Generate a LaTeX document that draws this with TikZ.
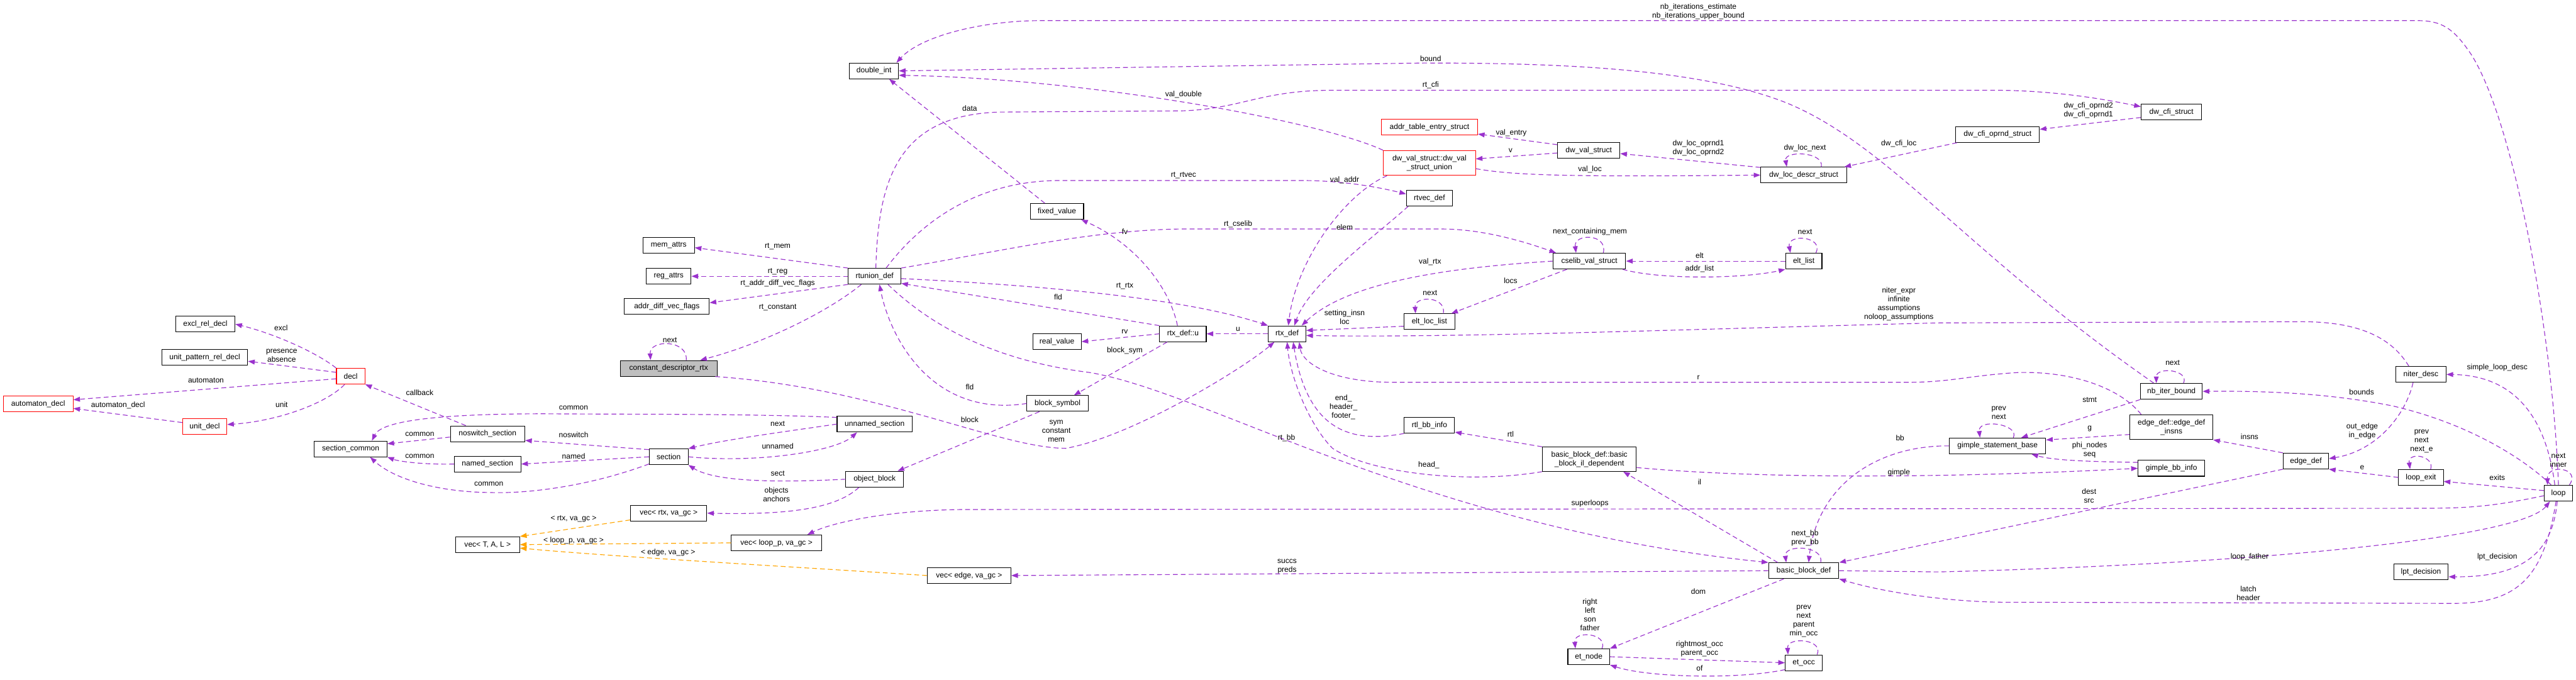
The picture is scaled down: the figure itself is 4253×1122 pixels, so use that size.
\documentclass[tikz,border=0pt]{standalone}
\usepackage{fontspec}
\setmainfont{Liberation Sans}
\usepackage{tikz}
\usetikzlibrary{arrows.meta}
\definecolor{Euse}{RGB}{154, 50, 205}
\definecolor{Etpl}{RGB}{255, 165, 0}
\definecolor{Bred}{RGB}{255, 0, 0}
\definecolor{Bgray}{RGB}{191, 191, 191}
\newcommand{\dxfont}{\fontsize{12.5}{14.5}\selectfont}
\tikzset{
    cls/.style={
        rectangle, draw=black, line width=1.1pt, fill=white, text=black,
        minimum height=26pt, inner sep=2pt, align=center, font=\dxfont
    },
    clsred/.style={cls, draw=Bred},
    clsgray/.style={cls, fill=Bgray},
    uarr/.style={-{Triangle[length=11pt, width=8pt]}, line width=1.2pt, Euse,
        dash pattern=on 8pt off 5pt},
    tarr/.style={uarr, Etpl},
    lbl/.style={font=\dxfont, align=center, inner sep=0pt, text=black},
}

\begin{document}
\begin{tikzpicture}[x=1pt, y=-1pt]

    \useasboundingbox (0,0) rectangle (4253,1122);

    % ── classes ─────────────────────────────────────────
    \node [cls, minimum width=81] (dint) at (1443,117) {double\_int};
    \node [cls, minimum width=88] (fixval) at (1745,349) {fixed\_value};
    \node [clsred, minimum width=159] (addrtab) at (2360,210) {addr\_table\_entry\_struct};
    \node [cls, minimum width=103] (dwval) at (2623,248) {dw\_val\_struct};
    \node [clsred, minimum width=152, minimum height=41]
        (dwunion) at (2360,269) {dw\_val\_struct::dw\_val\\\_struct\_union};
    \node [cls, minimum width=142] (dwloc) at (2978,289) {dw\_loc\_descr\_struct};
    \node [cls, minimum width=76] (rtvec) at (2360,327) {rtvec\_def};
    \node [cls, minimum width=100] (dwcfi) at (3585,185) {dw\_cfi\_struct};
    \node [cls, minimum width=138] (dwcfiop) at (3298,222) {dw\_cfi\_oprnd\_struct};

    \node [cls, minimum width=98] (excl) at (339,535) {excl\_rel\_decl};
    \node [cls, minimum width=142] (upat) at (338,590) {unit\_pattern\_rel\_decl};
    \node [clsred, minimum width=47] (decl) at (579,621) {decl};
    \node [clsred, minimum width=115] (autom) at (63,667) {automaton\_decl};
    \node [clsred, minimum width=73] (unitd) at (338,704) {unit\_decl};
    \node [cls, minimum width=123] (nosw) at (805,716) {noswitch\_section};
    \node [cls, minimum width=120] (seccom) at (579,741) {section\_common};
    \node [cls, minimum width=110] (namsec) at (805,766) {named\_section};
    \node [cls, minimum width=106] (vecT) at (805,899) {vec< T, A, L >};

    \node [cls, minimum width=85] (memat) at (1104,405) {mem\_attrs};
    \node [cls, minimum width=74] (regat) at (1104,456) {reg\_attrs};
    \node [cls, minimum width=140] (adfl) at (1101,506) {addr\_diff\_vec\_flags};
    \node [clsgray, minimum width=160] (cdr) at (1104,608) {constant\_descriptor\_rtx};
    \node [cls, minimum width=64] (sect) at (1104,754) {section};
    \node [cls, minimum width=126] (vrtx) at (1104,847) {vec< rtx, va\_gc >};
    \node [cls, minimum width=87] (rtun) at (1444,456) {rtunion\_def};
    \node [cls, minimum width=124] (unnsec) at (1444,700) {unnamed\_section};
    \node [cls, minimum width=95] (objb) at (1444,791) {object\_block};
    \node [cls, minimum width=149] (vloop) at (1282,896) {vec< loop\_p, va\_gc >};
    \node [cls, minimum width=138] (vedge) at (1600,950) {vec< edge, va\_gc >};
    \node [cls, minimum width=80] (realv) at (1745,564) {real\_value};
    \node [cls, minimum width=101] (bsym) at (1746,666) {block\_symbol};
    \node [cls, minimum width=77] (rtxu) at (1953,551) {rtx\_def::u};
    \node [cls, minimum width=62] (rtx) at (2125,551) {rtx\_def};

    \node [cls, minimum width=120] (cselib) at (2624,431) {cselib\_val\_struct};
    \node [cls, minimum width=60] (eltl) at (2978,431) {elt\_list};
    \node [cls, minimum width=84] (eltloc) at (2360,531) {elt\_loc\_list};
    \node [cls, minimum width=83] (rtlbb) at (2360,702) {rtl\_bb\_info};
    \node [cls, minimum width=155, minimum height=40]
        (bbil) at (2624,758) {basic\_block\_def::basic\\\_block\_il\_dependent};
    \node [cls, minimum width=116] (bbd) at (2978,942) {basic\_block\_def};
    \node [cls, minimum width=69] (etn) at (2623,1084) {et\_node};
    \node [cls, minimum width=61] (eto) at (2978,1094) {et\_occ};

    \node [cls, minimum width=102] (nbit) at (3585,646) {nb\_iter\_bound};
    \node [cls, minimum width=137, minimum height=41]
        (edins) at (3585,705) {edge\_def::edge\_def\\\_insns};
    \node [cls, minimum width=159] (gsb) at (3298,736) {gimple\_statement\_base};
    \node [cls, minimum width=110] (gbb) at (3585,773) {gimple\_bb\_info};
    \node [cls, minimum width=75] (edge) at (3807,761) {edge\_def};
    \node [cls, minimum width=83] (niter) at (3997,618) {niter\_desc};
    \node [cls, minimum width=74] (lexit) at (3997,788) {loop\_exit};
    \node [cls, minimum width=90] (lpt) at (3997,944) {lpt\_decision};
    \node [cls, minimum width=47] (loop) at (4224,814) {loop};

    % ── decl / section group ────────────────────────────
    \draw [uarr] (decl.north west) .. controls (520,580) and (450,550) .. (excl.east);
    \draw [uarr] (decl.165) -- (upat.-5);
    \draw [uarr] (decl.190) -- (autom.7);
    \draw [uarr] (unitd.170) -- (autom.-7);
    \draw [uarr] ([xshift=-10pt]decl.south) .. controls (540,665) and (460,695) .. (unitd.5);
    \draw [uarr] ([xshift=-36pt]nosw.north) -- (decl.south east);
    \draw [uarr] (nosw.185) -- (seccom.8);
    \draw [uarr] (unnsec.170) .. controls (1250,683) and (1050,684) .. (900,683)
        .. controls (720,683) and (630,695) .. ([xshift=35pt]seccom.north);
    \draw [uarr] (sect.160) -- (nosw.-10);
    \draw [uarr] (sect.west) -- (namsec.east);
    \draw [uarr] (namsec.west) .. controls (700,767) and (660,762) .. (seccom.south east);
    \draw [uarr] (sect.200) .. controls (980,800) and (880,815) .. (810,813)
        .. controls (720,812) and (650,790) .. ([xshift=32pt]seccom.south);
    \draw [uarr] (sect.east) .. controls (1250,765) and (1380,745) .. ([xshift=-29pt]unnsec.south);
    \draw [uarr] (unnsec.west) .. controls (1300,712) and (1200,725) .. (sect.north east);
    \draw [uarr] (objb.west) .. controls (1280,797) and (1180,795) .. (sect.south east);
    \draw [uarr] ([xshift=-26pt]objb.south) .. controls (1380,840) and (1300,850) .. (vrtx.east);
    \draw [uarr] ([xshift=-30pt]bsym.south) -- ([xshift=38pt]objb.north);

    % ── templates ───────────────────────────────────────
    \draw [tarr] (vrtx.190) -- (vecT.north east);
    \draw [tarr] (vloop.west) -- (vecT.east);
    \draw [tarr] (vedge.west) .. controls (1300,935) and (1000,918) .. (vecT.-6);

    % ── rtunion_def / rtx_def ───────────────────────────
    \draw [uarr] (rtun.north west) -- (memat.-5);
    \draw [uarr] (rtun.west) -- (regat.east);
    \draw [uarr] (rtun.south west) -- (adfl.5);
    \draw [uarr] ([xshift=-22pt]rtun.south) .. controls (1360,520) and (1250,570) .. ([xshift=52pt]cdr.north);
    \draw [uarr] ([xshift=29pt]cdr.north) .. controls (1136,560) and (1072,560) .. ([xshift=-30pt]cdr.north);
    \draw [uarr] (cdr.-10) .. controls (1450,640) and (1650,740) .. (1760,740)
        .. controls (1870,720) and (2050,610) .. ([xshift=-21pt]rtx.south);
    \draw [uarr] (bsym.west) .. controls (1540,690) and (1470,560) .. ([xshift=8pt]rtun.south);
    \draw [uarr] ([xshift=-26pt]rtxu.south) -- ([xshift=27pt]bsym.north);
    \draw [uarr] (rtxu.west) -- (realv.east);
    \draw [uarr] (rtx.west) -- (rtxu.east);
    \draw [uarr] (rtxu.north west) -- (rtun.-15);
    \draw [uarr] (rtun.-5) .. controls (1700,470) and (1950,490) .. (rtx.north west);
    \draw [uarr] ([xshift=-20pt]fixval.north) -- ([xshift=25pt]dint.south);
    \draw [uarr] ([xshift=-9pt]rtxu.north) .. controls (1930,470) and (1870,400) .. ([xshift=40pt]fixval.south);
    \draw [uarr] ([xshift=2pt]rtun.north) .. controls (1450,300) and (1480,190) .. (1650,185)
        -- (1950,183) .. controls (2050,180) and (2080,149) .. (2200,149)
        -- (3300,149) .. controls (3400,150) and (3480,165) .. (dwcfi.170);
    \draw [uarr] ([xshift=19pt]rtun.north) .. controls (1510,380) and (1600,298) .. (1750,298)
        -- (2150,298) .. controls (2220,298) and (2280,310) .. (rtvec.170);
    \draw [uarr] (rtun.north east) .. controls (1650,415) and (1800,380) .. (1950,378)
        -- (2380,378) .. controls (2450,378) and (2520,400) .. ([xshift=-55pt]cselib.north);
    \draw [uarr] ([xshift=22pt]rtun.south) .. controls (1560,560) and (1680,600) .. (1800,615)
        .. controls (2000,650) and (2350,870) .. (bbd.north west);

    % ── double_int ──────────────────────────────────────
    \draw [uarr] (dwunion.north west) .. controls (2180,200) and (1800,130) .. (dint.-10);
    \draw [uarr] ([xshift=-29pt]nbit.north) .. controls (3250,420) and (3120,240) .. (2950,170)
        .. controls (2800,110) and (2550,104) .. (2350,104) -- (dint.east);
    \draw [uarr] (loop.north) .. controls (4215,550) and (4150,200) .. (4080,90)
        .. controls (4050,45) and (4030,34) .. (3990,34) -- (1720,34)
        .. controls (1620,34) and (1520,60) .. ([xshift=37pt]dint.north);

    % ── into rtx_def ────────────────────────────────────
    \draw [uarr] ([xshift=-70pt]dwunion.south) .. controls (2220,320) and (2140,430) .. ([xshift=2pt]rtx.north);
    \draw [uarr] ([xshift=-35pt]rtvec.south) .. controls (2270,390) and (2160,470) .. ([xshift=12pt]rtx.north);
    \draw [uarr] (cselib.west) .. controls (2420,440) and (2230,460) .. ([xshift=24pt]rtx.north);
    \draw [uarr] (eltloc.190) -- (rtx.10);
    \draw [uarr] ([xshift=-20pt]niter.north) .. controls (3950,560) and (3900,531) .. (3800,531)
        -- (3200,533) .. controls (2800,543) and (2400,558) .. (rtx.-5);
    \draw [uarr] ([xshift=-50pt]edins.north) .. controls (3500,640) and (3420,612) .. (3330,615)
        .. controls (3250,620) and (3220,631) .. (3150,631) -- (2300,631)
        .. controls (2200,631) and (2150,600) .. ([xshift=20pt]rtx.south);
    \draw [uarr] (rtlbb.south west) .. controls (2240,730) and (2160,720) .. ([xshift=10pt]rtx.south);
    \draw [uarr] (bbil.south west) .. controls (2420,800) and (2260,780) .. (2200,740)
        .. controls (2160,700) and (2130,620) .. (rtx.south);

    % ── dwarf structs ───────────────────────────────────
    \draw [uarr] (dwval.170) -- (addrtab.-8);
    \draw [uarr] (dwval.185) -- (dwunion.5);
    \draw [uarr] (dwunion.-7) .. controls (2500,290) and (2600,292) .. (dwloc.west);
    \draw [uarr] (dwloc.170) -- (dwval.-6);
    \draw [uarr] ([xshift=29pt]dwloc.north) .. controls (3012,250) and (2945,248) .. ([xshift=-28pt]dwloc.north);
    \draw [uarr] ([xshift=-67pt]dwcfiop.south) -- ([xshift=67pt]dwloc.north);
    \draw [uarr] (dwcfi.190) -- (dwcfiop.7);

    % ── cselib ──────────────────────────────────────────
    \draw [uarr] ([xshift=23pt]cselib.north) .. controls (2655,385) and (2598,385) .. ([xshift=-22pt]cselib.north);
    \draw [uarr] (eltl.west) -- (cselib.east);
    \draw [uarr] ([xshift=55pt]cselib.south) .. controls (2740,462) and (2880,460) .. (eltl.south west);
    \draw [uarr] ([xshift=20pt]eltl.north) .. controls (3012,390) and (2950,385) .. ([xshift=-22pt]eltl.north);
    \draw [uarr] ([xshift=-37pt]cselib.south) -- ([xshift=36pt]eltloc.north);
    \draw [uarr] ([xshift=23pt]eltloc.north) .. controls (2388,488) and (2335,488) .. ([xshift=-23pt]eltloc.north);

    % ── basic blocks ────────────────────────────────────
    \draw [uarr] (bbil.north west) -- (rtlbb.-15);
    \draw [uarr] (bbil.-10) .. controls (2900,790) and (3200,790) .. (gbb.west);
    \draw [uarr] (gsb.west) .. controls (3100,735) and (3000,800) .. ([xshift=8pt]bbd.north);
    \draw [uarr] ([xshift=-43pt]bbd.north) -- ([xshift=56pt]bbil.south);
    \draw [uarr] ([xshift=28pt]bbd.north) .. controls (3012,900) and (2945,898) .. ([xshift=-29pt]bbd.north);
    \draw [uarr] (bbd.west) -- (vedge.east);
    \draw [uarr] ([xshift=-33pt]bbd.south) -- (etn.north east);
    \draw [uarr] ([xshift=22pt]etn.north) .. controls (2655,1045) and (2598,1040) .. ([xshift=-22pt]etn.north);
    \draw [uarr] (etn.east) -- (eto.west);
    \draw [uarr] (eto.200) .. controls (2870,1122) and (2720,1118) .. (etn.south east);
    \draw [uarr] ([xshift=22pt]eto.north) .. controls (3012,1055) and (2950,1050) .. ([xshift=-26pt]eto.north);

    % ── gimple / edges / loops ──────────────────────────
    \draw [uarr] ([xshift=20pt]nbit.north) .. controls (3615,610) and (3560,605) .. ([xshift=-25pt]nbit.north);
    \draw [uarr] (nbit.south west) -- ([xshift=39pt]gsb.north);
    \draw [uarr] (edins.190) -- (gsb.7);
    \draw [uarr] (gbb.170) .. controls (3450,762) and (3390,760) .. ([xshift=56pt]gsb.south);
    \draw [uarr] ([xshift=26pt]gsb.north) .. controls (3335,700) and (3265,690) .. ([xshift=-29pt]gsb.north);
    \draw [uarr] (edge.north west) -- (edins.south east);
    \draw [uarr] (edge.south west) -- (bbd.north east);
    \draw [uarr] ([xshift=-13pt]niter.south) .. controls (3970,690) and (3920,745) .. (edge.6);
    \draw [uarr] (lexit.west) -- (edge.south east);
    \draw [uarr] ([xshift=16pt]lexit.north) .. controls (4020,752) and (3975,745) .. ([xshift=-18pt]lexit.north);
    \draw [uarr] (loop.170) -- (lexit.-10);
    \draw [uarr] ([xshift=18pt]loop.north) .. controls (4262,772) and (4205,765) .. ([xshift=-18pt]loop.north);
    \draw [uarr] ([xshift=-12pt]loop.north) .. controls (4170,760) and (4080,700) .. (3950,670)
        .. controls (3850,650) and (3750,645) .. (nbit.east);
    \draw [uarr] ([xshift=-6pt]loop.north) .. controls (4205,700) and (4160,620) .. (niter.east);
    \draw [uarr] (loop.190) .. controls (4120,835) and (4080,839) .. (4000,839) -- (1600,841)
        .. controls (1480,841) and (1380,860) .. ([xshift=51pt]vloop.north);
    \draw [uarr] (bbd.east) -- (3200,944) .. controls (3700,932) and (4160,890) .. ([xshift=-14pt]loop.south);
    \draw [uarr] ([xshift=-4pt]loop.south) .. controls (4200,950) and (4160,996) .. (4050,996)
        -- (3300,994) .. controls (3200,992) and (3100,975) .. (bbd.south east);
    \draw [uarr] ([xshift=-2pt]loop.south) .. controls (4215,900) and (4180,953) .. (lpt.-10);

    % ── edge labels ─────────────────────────────────────
    \node [lbl] (lnbi) at (2804,19) {nb\_iterations\_estimate\\nb\_iterations\_upper\_bound};
    \node [lbl] (lbound) at (2362,97) {bound};
    \node [lbl] (lrtcfi) at (2362,141) {rt\_cfi};
    \node [lbl] (ldata) at (1601,179) {data};
    \node [lbl] (lvaldbl) at (1954,156) {val\_double};
    \node [lbl] (lrtvec) at (1954,290) {rt\_rtvec};
    \node [lbl] (lvalent) at (2495,219) {val\_entry};
    \node [lbl] (lv) at (2494,248) {v};
    \node [lbl] (loprnd) at (2804,244) {dw\_loc\_oprnd1\\dw\_loc\_oprnd2};
    \node [lbl] (llocnext) at (2980,244) {dw\_loc\_next};
    \node [lbl] (lcfiloc) at (3135,237) {dw\_cfi\_loc};
    \node [lbl] (lcfiop) at (3448,182) {dw\_cfi\_oprnd2\\dw\_cfi\_oprnd1};
    \node [lbl] (lvalloc) at (2625,280) {val\_loc};
    \node [lbl] (lvaladdr) at (2220,297) {val\_addr};
    \node [lbl] (lelem) at (2220,375) {elem};

    \node [lbl] (lexcl) at (464,541) {excl};
    \node [lbl] (lpres) at (465,587) {presence\\absence};
    \node [lbl] (lautom) at (340,628) {automaton};
    \node [lbl] (lautomd) at (195,669) {automaton\_decl};
    \node [lbl] (lunit) at (465,668) {unit};
    \node [lbl] (lcallb) at (693,648) {callback};
    \node [lbl] (lcom1) at (947,673) {common};
    \node [lbl] (lcom2) at (693,717) {common};
    \node [lbl] (lnosw) at (947,718) {noswitch};
    \node [lbl] (lcom3) at (693,753) {common};
    \node [lbl] (lnamed) at (947,753) {named};
    \node [lbl] (lcom4) at (807,799) {common};
    \node [lbl] (ltrtx) at (947,856) {< rtx, va\_gc >};
    \node [lbl] (ltloop) at (947,892) {< loop\_p, va\_gc >};
    \node [lbl] (ltedge) at (1103,912) {< edge, va\_gc >};

    \node [lbl] (lrtmem) at (1284,407) {rt\_mem};
    \node [lbl] (lrtreg) at (1284,448) {rt\_reg};
    \node [lbl] (lrtadfl) at (1284,468) {rt\_addr\_diff\_vec\_flags};
    \node [lbl] (lrtcons) at (1284,508) {rt\_constant};
    \node [lbl] (lcdrnext) at (1106,561) {next};
    \node [lbl] (lfv) at (1857,382) {fv};
    \node [lbl] (lrtcse) at (2044,370) {rt\_cselib};
    \node [lbl] (lrtrtx) at (1857,472) {rt\_rtx};
    \node [lbl] (lfld1) at (1747,490) {fld};
    \node [lbl] (lrv) at (1857,547) {rv};
    \node [lbl] (lu) at (2044,543) {u};
    \node [lbl] (lbsym) at (1857,579) {block\_sym};
    \node [lbl] (lfld2) at (1601,639) {fld};
    \node [lbl] (lblock) at (1601,693) {block};
    \node [lbl] (lsym) at (1744,712) {sym\\constant\\mem};
    \node [lbl] (lunnext) at (1284,699) {next};
    \node [lbl] (lunnamed) at (1284,736) {unnamed};
    \node [lbl] (lsect) at (1284,781) {sect};
    \node [lbl] (lobjs) at (1282,816) {objects\\anchors};
    \node [lbl] (lrtbb) at (2124,723) {rt\_bb};

    \node [lbl] (lncm) at (2625,383) {next\_containing\_mem};
    \node [lbl] (leltnext) at (2980,383) {next};
    \node [lbl] (lelt) at (2806,422) {elt};
    \node [lbl] (laddrl) at (2806,444) {addr\_list};
    \node [lbl] (lvalrtx) at (2361,432) {val\_rtx};
    \node [lbl] (llocs) at (2494,463) {locs};
    \node [lbl] (llocnx) at (2361,483) {next};
    \node [lbl] (lsetins) at (2220,524) {setting\_insn\\loc};
    \node [lbl] (lniter) at (3135,502) {niter\_expr\\infinite\\assumptions\\noloop\_assumptions};
    \node [lbl] (lr) at (2804,623) {r};
    \node [lbl] (lendh) at (2218,672) {end\_\\header\_\\footer\_};
    \node [lbl] (lrtl) at (2494,717) {rtl};
    \node [lbl] (lbb) at (3137,723) {bb};
    \node [lbl] (lhead) at (2359,768) {head\_};
    \node [lbl] (lil) at (2806,795) {il};
    \node [lbl] (lgimple) at (3135,780) {gimple};
    \node [lbl] (lsuper) at (2625,831) {superloops};
    \node [lbl] (lnextbb) at (2980,888) {next\_bb\\prev\_bb};
    \node [lbl] (lsuccs) at (2125,935) {succs\\preds};
    \node [lbl] (ldom) at (2804,976) {dom};
    \node [lbl] (letnself) at (2625,1015) {right\\left\\son\\father};
    \node [lbl] (letoself) at (2978,1025) {prev\\next\\parent\\min\_occ};
    \node [lbl] (lrocc) at (2806,1071) {rightmost\_occ\\parent\_occ};
    \node [lbl] (lof) at (2806,1103) {of};

    \node [lbl] (lnbnext) at (3587,599) {next};
    \node [lbl] (lstmt) at (3450,660) {stmt};
    \node [lbl] (lbounds) at (3899,647) {bounds};
    \node [lbl] (lsld) at (4123,607) {simple\_loop\_desc};
    \node [lbl] (lgsbself) at (3300,681) {prev\\next};
    \node [lbl] (lg) at (3450,708) {g};
    \node [lbl] (lphi) at (3450,743) {phi\_nodes\\seq};
    \node [lbl] (linsns) at (3714,721) {insns};
    \node [lbl] (loutedge) at (3900,712) {out\_edge\\in\_edge};
    \node [lbl] (lexself) at (3998,728) {prev\\next\\next\_e};
    \node [lbl] (lloopself) at (4224,760) {next\\inner};
    \node [lbl] (le) at (3900,772) {e};
    \node [lbl] (lexits) at (4123,788) {exits};
    \node [lbl] (ldest) at (3449,818) {dest\\src};
    \node [lbl] (lfather) at (3714,919) {loop\_father};
    \node [lbl] (llpt) at (4123,919) {lpt\_decision};
    \node [lbl] (llatch) at (3712,979) {latch\\header};

\end{tikzpicture}
\end{document}
